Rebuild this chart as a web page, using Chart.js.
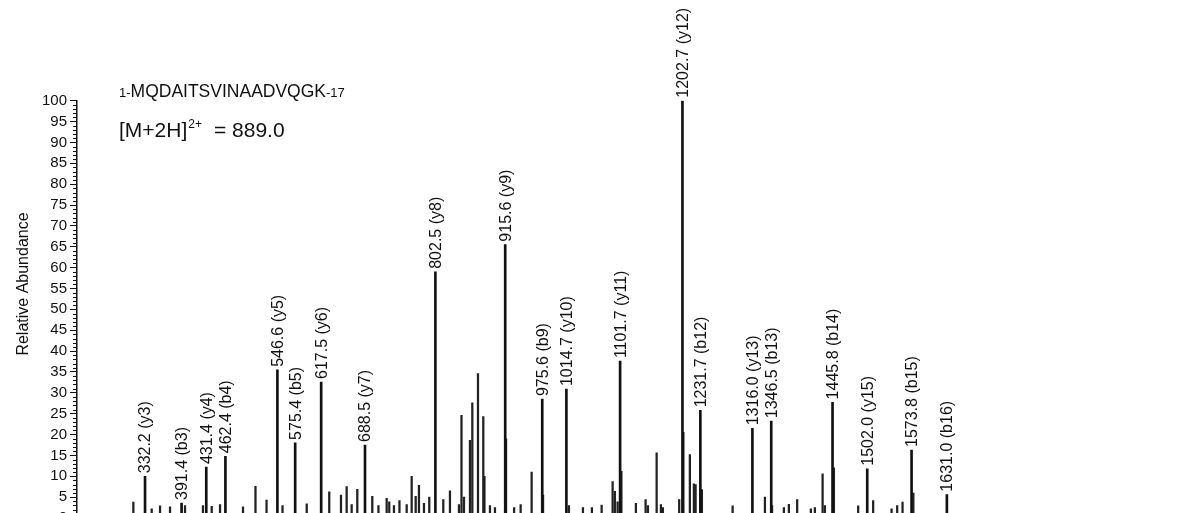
<!DOCTYPE html>
<html>
<head>
<meta charset="utf-8">
<script src="https://cdn.jsdelivr.net/npm/chart.js@4.4.0/dist/chart.umd.min.js"></script>
<style>
  html, body { margin: 0; padding: 0; background: #ffffff; overflow: hidden; }
  #wrap { width: 1200px; height: 530px; }
</style>
</head>
<body>
<div id="wrap"><canvas id="c" width="1200" height="530"></canvas></div>
<script>
// Annotated fragment ions (m/z, relative abundance, ion name)
const ionMz = [332.2, 391.4, 431.4, 462.4, 546.6, 575.4, 617.5, 688.5, 802.5, 915.6, 975.6, 1014.7, 1101.7, 1202.7, 1231.7, 1316.0, 1346.5, 1445.8, 1502.0, 1573.8, 1631.0];
const ionIntensity = [10, 3.6, 12.2, 14.8, 35.5, 18, 32.6, 17.5, 59, 65.5, 28.5, 30.9, 37.6, 100, 25.8, 21.5, 23.2, 27.7, 11.8, 16.3, 5.6];
const ionNames = ["y3", "b3", "y4", "b4", "y5", "b5", "y6", "y7", "y8", "y9", "b9", "y10", "y11", "y12", "b12", "y13", "b13", "b14", "y15", "b15", "b16"];

// Unannotated peaks (m/z, relative abundance)
const otherMz = [313.3, 343.0, 356.5, 372.7, 397.0, 426.0, 440.2, 453.7, 490.9, 511.1, 529.0, 554.9, 594.1, 630.6, 649.6, 658.8, 666.9, 676.0, 700.3, 710.3, 723.6, 727.8, 735.4, 744.3, 756.0, 764.1, 770.6, 775.9, 784.0, 792.6, 815.3, 826.1, 840.7, 844.8, 848.8, 858.5, 862.3, 871.5, 880.1, 882.0, 890.9, 899.0, 917.0, 930.0, 940.6, 958.4, 976.9, 1018.8, 1041.5, 1056.0, 1071.8, 1089.6, 1093.3, 1097.7, 1103.8, 1127.3, 1143.0, 1146.8, 1160.9, 1167.8, 1171.0, 1197.4, 1204.2, 1214.7, 1221.2, 1224.0, 1234.2, 1284.0, 1336.3, 1347.8, 1367.0, 1375.1, 1388.5, 1410.7, 1417.2, 1429.7, 1433.4, 1448.0, 1487.3, 1511.6, 1541.4, 1550.5, 1559.2, 1576.7];
const otherIntensity = [3.8, 2.2, 2.9, 2.7, 3.0, 3.0, 2.8, 3.2, 2.7, 7.6, 4.3, 3.0, 3.4, 6.3, 5.5, 7.5, 3.2, 6.9, 5.2, 3.0, 4.7, 3.9, 3.0, 4.2, 3.2, 10, 5.2, 7.8, 3.5, 5.0, 4.4, 6.5, 3.2, 24.6, 5.0, 18.6, 27.6, 34.6, 24.3, 10, 3.0, 2.5, 19, 2.5, 3.2, 11, 5.5, 3.0, 2.5, 2.5, 3.1, 8.7, 6.4, 3.9, 11.2, 3.5, 4.4, 3.0, 15.6, 3.2, 2.5, 4.4, 20.5, 15.2, 8.2, 8.0, 6.8, 2.9, 5.0, 3.0, 2.5, 3.3, 4.4, 2.2, 2.5, 10.6, 3.0, 12, 2.9, 4.2, 2.2, 3.0, 3.8, 6.0];

const yTicks = [0, 5, 10, 15, 20, 25, 30, 35, 40, 45, 50, 55, 60, 65, 70, 75, 80, 85, 90, 95, 100];
const yTitle = "Relative Abundance";
const seqPrefix = "1-";
const seqMain = "MQDAITSVINAADVQGK";
const seqSuffix = "-17";
const precursorMain = "[M+2H]";
const precursorCharge = "2+";
const precursorValue = "= 889.0";

const FONT = "'Liberation Sans', Arial, Helvetica, sans-serif";

const annotatePlugin = {
  id: 'annotate',
  afterDraw(chart) {
    const ctx = chart.ctx;
    const xs = chart.scales.x, ys = chart.scales.y;
    ctx.save();
    ctx.fillStyle = '#111';
    // peak labels
    ctx.font = "16px " + FONT;
    ctx.textAlign = 'left';
    ctx.textBaseline = 'middle';
    for (let i = 0; i < ionMz.length; i++) {
      const px = xs.getPixelForValue(ionMz[i]);
      const py = ys.getPixelForValue(ionIntensity[i]);
      ctx.save();
      ctx.translate(px + 1, py - 3);
      ctx.rotate(-Math.PI / 2);
      ctx.fillText(ionMz[i].toFixed(1) + " (" + ionNames[i] + ")", 0, 0);
      ctx.restore();
    }
    // minor ticks on y axis
    ctx.strokeStyle = '#111';
    ctx.lineWidth = 1;
    const ax = xs.left;
    for (let v = 0; v <= 100; v++) {
      if (v % 5 === 0) continue;
      const py = Math.round(ys.getPixelForValue(v)) + 0.5;
      ctx.beginPath();
      ctx.moveTo(ax - 4, py);
      ctx.lineTo(ax, py);
      ctx.stroke();
    }
    // y axis title
    ctx.save();
    ctx.translate(24, 284);
    ctx.rotate(-Math.PI / 2);
    ctx.textAlign = 'center';
    ctx.textBaseline = 'middle';
    ctx.font = "16px " + FONT;
    ctx.fillText(yTitle, 0, 0);
    ctx.restore();
    // sequence / precursor text
    ctx.textAlign = 'left';
    ctx.textBaseline = 'alphabetic';
    let x = 119;
    let base = 97;
    ctx.font = "13px " + FONT;
    ctx.fillText(seqPrefix, x, base);
    x += ctx.measureText(seqPrefix).width;
    ctx.font = "17.5px " + FONT;
    ctx.fillText(seqMain, x, base);
    x += ctx.measureText(seqMain).width;
    ctx.font = "13px " + FONT;
    ctx.fillText(seqSuffix, x, base);

    x = 119; base = 137;
    ctx.font = "21px " + FONT;
    ctx.fillText(precursorMain, x, base);
    x += ctx.measureText(precursorMain).width + 1;
    ctx.font = "12px " + FONT;
    ctx.fillText(precursorCharge, x, base - 9);
    x += ctx.measureText(precursorCharge).width + 12;
    ctx.font = "21px " + FONT;
    ctx.fillText(precursorValue, x, base);
    ctx.restore();
  }
};

const ctx = document.getElementById('c').getContext('2d');
new Chart(ctx, {
  type: 'bar',
  data: {
    datasets: [
      {
        data: ionMz.map((m, i) => ({ x: m, y: ionIntensity[i] })),
        backgroundColor: '#111',
        barThickness: 2,
        grouped: false
      },
      {
        data: otherMz.map((m, i) => ({ x: m, y: otherIntensity[i] })),
        backgroundColor: '#222',
        barThickness: 1.6,
        grouped: false
      }
    ]
  },
  options: {
    responsive: false,
    animation: false,
    events: [],
    layout: { padding: { top: 100.7, bottom: 9.7, left: 0, right: 0 } },
    plugins: { legend: { display: false }, tooltip: { enabled: false } },
    scales: {
      x: {
        type: 'linear',
        min: 222,
        max: 2041,
        display: false,
        offset: false
      },
      y: {
        min: 0,
        max: 100,
        afterFit(s) { s.width = 77; },
        afterBuildTicks(s) { s.ticks = yTicks.map(v => ({ value: v })); },
        ticks: {
          autoSkip: false,
          color: '#111',
          padding: 3,
          font: { family: FONT, size: 15 }
        },
        grid: {
          drawOnChartArea: false,
          drawTicks: true,
          tickLength: 7,
          tickColor: '#111',
          tickWidth: 1
        },
        border: { display: true, color: '#111', width: 1.5 }
      }
    }
  },
  plugins: [annotatePlugin]
});
</script>
</body>
</html>
